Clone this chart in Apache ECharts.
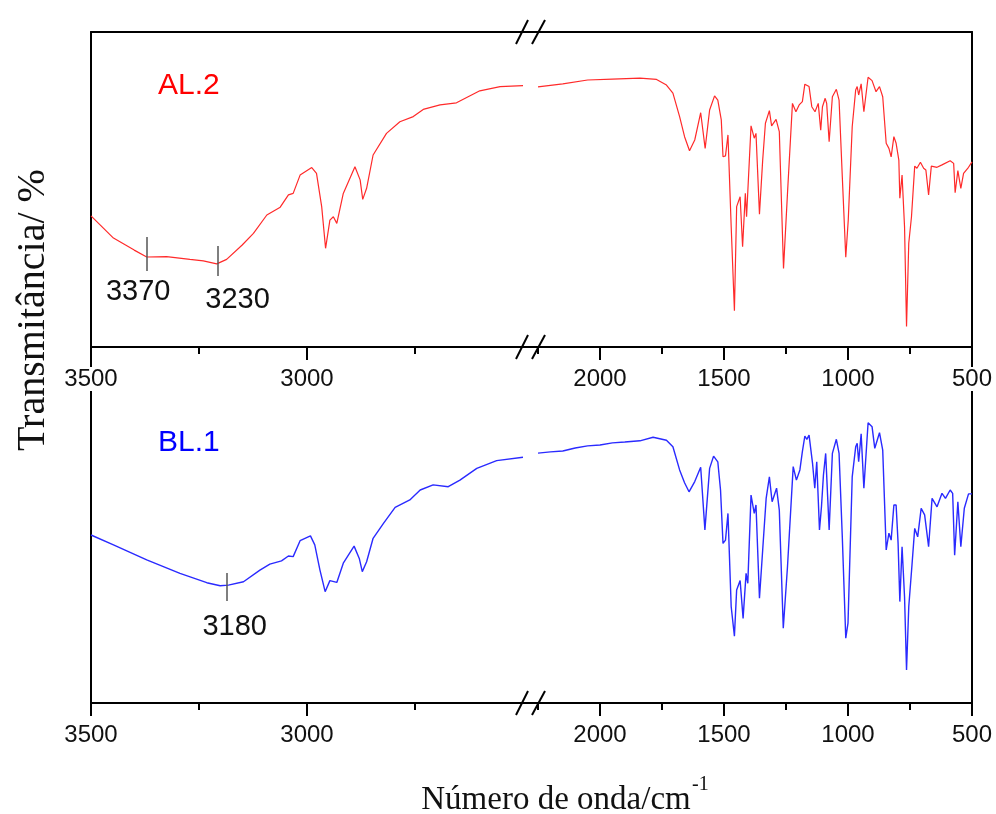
<!DOCTYPE html>
<html>
<head>
<meta charset="utf-8">
<script src="https://cdn.jsdelivr.net/npm/echarts@6/dist/echarts.min.js"></script>
<style>html,body{margin:0;padding:0;background:#fff}#c{width:996px;height:814px}</style>
</head>
<body>
<div id="c"></div>
<script>
// AL.2 (top panel), high-wavenumber segment 3500-2500 cm-1
const al2HighWn = [3500,3448,3400,3371,3325,3271,3240,3209,3186,3150,3124,3093,3062,3043,3032,3016,2989,2978,2966,2957,2947,2939,2931,2916,2889,2877,2871,2862,2847,2816,2785,2754,2731,2692,2654,2600,2553,2500];
const al2HighT  = [43.7,36.3,32.3,30.0,30.1,29.2,28.7,27.7,29.2,34.0,37.9,44.0,46.6,50.7,51.2,57.3,59.8,57.9,46.8,32.9,42.3,43.4,41.2,51.2,60.1,55.7,49.2,52.9,64.0,71.2,75.1,76.8,79.2,80.7,81.4,85.4,86.8,87.1];
// AL.2 low-wavenumber segment 2250-500 cm-1
const al2LowWn = [2250,2150,2050,1950,1839,1772,1732,1706,1679,1659,1639,1618,1594,1576,1558,1538,1525,1511,1504,1494,1484,1471,1458,1449,1435,1425,1414,1409,1391,1378,1371,1357,1344,1333,1317,1308,1290,1277,1260,1244,1224,1210,1197,1184,1174,1157,1146,1133,1120,1110,1103,1092,1086,1076,1063,1047,1036,1023,1009,999,983,969,963,957,947,936,919,903,887,873,860,846,835,826,815,806,795,791,782,772,764,755,744,731,722,708,695,686,675,664,641,621,588,574,568,557,545,534,514,500];
const al2LowT  = [86.7,87.7,89.0,89.3,89.6,89.2,87.3,84.6,76.8,70.1,65.4,69.0,78.1,66.2,79.0,83.7,82.3,75.7,63.4,63.7,70.7,40.1,12.1,46.8,50.1,33.4,51.2,43.4,73.7,69.6,71.2,44.3,62.3,74.6,78.8,73.7,75.9,71.8,26.2,51.2,81.2,78.4,80.7,81.8,87.6,86.8,80.1,78.4,81.2,72.3,80.1,82.9,81.2,68.4,83.4,85.9,82.3,56.8,29.9,42.3,73.4,85.7,86.8,84.0,87.7,78.4,89.9,88.8,85.1,86.8,83.4,67.9,66.2,63.4,70.1,67.9,62.3,49.6,57.3,40.1,6.8,34.6,43.4,60.3,59.6,61.6,59.6,59.0,50.7,60.3,59.9,60.7,62.1,61.2,51.4,58.8,52.9,57.9,59.9,61.7];
// BL.1 (bottom panel)
const bl1HighWn = [3500,3448,3371,3294,3232,3201,3182,3147,3109,3086,3059,3043,3032,3016,2992,2982,2970,2958,2947,2931,2916,2891,2879,2872,2862,2847,2823,2796,2762,2738,2708,2673,2646,2607,2561,2500];
const bl1HighT  = [56.0,52.7,47.7,43.2,40.1,39.1,39.3,40.4,44.3,46.3,47.4,49.0,48.8,54.1,55.7,52.7,44.3,37.1,40.8,40.2,46.6,52.3,48.2,43.8,47.1,54.9,59.9,65.2,67.7,71.0,72.7,72.1,74.3,78.2,80.8,81.9];
const bl1LowWn = [2250,2200,2150,2100,2050,2000,1950,1900,1839,1786,1732,1706,1679,1659,1641,1618,1594,1577,1558,1542,1525,1514,1504,1494,1484,1471,1458,1449,1435,1423,1411,1404,1391,1378,1371,1357,1344,1330,1317,1306,1288,1277,1261,1244,1221,1208,1194,1184,1174,1166,1157,1143,1134,1126,1115,1107,1099,1090,1076,1063,1047,1036,1023,1009,1000,983,969,963,957,947,936,919,903,892,873,860,846,835,826,815,806,798,791,782,772,764,755,742,731,719,705,691,685,675,661,641,621,607,588,578,570,557,545,531,514,500];
const bl1LowT  = [83.3,83.7,84.0,85.0,85.7,86.0,86.7,87.0,87.4,88.6,87.6,85.4,77.7,73.4,70.4,73.8,78.6,57.7,78.2,82.3,80.4,71.0,53.2,54.3,63.2,32.1,22.3,37.7,40.8,28.2,43.2,39.9,69.3,63.2,66.0,34.9,51.0,68.2,75.4,67.1,71.6,64.3,24.9,45.4,78.8,74.3,77.7,83.8,89.0,87.9,89.3,79.9,71.6,80.4,57.7,65.4,76.0,83.2,57.7,83.2,87.9,83.2,55.4,21.6,26.6,75.4,85.4,86.6,80.4,89.7,71.6,93.4,92.1,84.9,90.1,84.3,51.0,56.6,54.3,66.0,66.0,53.2,33.8,52.1,35.4,11.0,32.1,46.0,58.2,55.4,64.9,62.7,63.2,52.1,68.2,65.4,69.9,68.2,71.0,69.9,49.3,67.1,52.1,64.9,69.7,69.7];

// axis ticks / labels
const highMajor = [3500, 3000];
const highMinor = [3250, 2750];
const lowMajor = [2000, 1500, 1000, 500];
const lowMinor = [2250, 1750, 1250, 750];

// peak annotations: [marker position, label text]
const al2Marks = [[3370, '3370'], [3207, '3230']];
const bl1Marks = [[3186, '3180']];

const zip = (a, b) => a.map((v, i) => [v, b[i]]);
const SANS = '"Liberation Sans", Arial, sans-serif';
const SERIF = '"Liberation Serif", "Times New Roman", serif';

const grids = [
  {left: 91, top: 32, width: 432, height: 315},
  {left: 538, top: 32, width: 434, height: 315},
  {left: 91, top: 347, width: 432, height: 356},
  {left: 538, top: 347, width: 434, height: 356}
];
const ranges = [[2500, 3500], [500, 2250], [2500, 3500], [500, 2250]];

const xAxes = [];
// main axes
for (let i = 0; i < 4; i++) {
  const high = i % 2 === 0;
  xAxes.push({
    type: 'value', gridIndex: i, min: ranges[i][0], max: ranges[i][1], inverse: true,
    position: 'bottom', z: i < 2 ? 10 : 3,
    axisLine: {show: true, onZero: false, lineStyle: {color: '#000', width: 2}},
    axisTick: {show: true, length: 13, lineStyle: {color: '#000', width: 2}, customValues: high ? highMajor : lowMajor},
    axisLabel: {show: true, customValues: high ? highMajor : lowMajor, fontSize: 24, fontFamily: SANS, color: '#111', margin: 20,
      formatter: v => String(v),
      backgroundColor: i < 2 ? '#fff' : 'transparent'},
    splitLine: {show: false}
  });
}
// minor tick axes
for (let i = 0; i < 4; i++) {
  const high = i % 2 === 0;
  xAxes.push({
    type: 'value', gridIndex: i, min: ranges[i][0], max: ranges[i][1], inverse: true,
    position: 'bottom',
    axisLine: {show: false, onZero: false},
    axisTick: {show: true, length: 7, lineStyle: {color: '#000', width: 2}, customValues: high ? highMinor : lowMinor},
    axisLabel: {show: false},
    splitLine: {show: false}
  });
}
// top frame of upper panel
for (let i = 0; i < 2; i++) {
  xAxes.push({
    type: 'value', gridIndex: i, min: ranges[i][0], max: ranges[i][1], inverse: true,
    position: 'top',
    axisLine: {show: true, onZero: false, lineStyle: {color: '#000', width: 2}},
    axisTick: {show: false}, axisLabel: {show: false}, splitLine: {show: false}
  });
}

const yAxes = [0, 1, 2, 3].map(i => ({
  type: 'value', gridIndex: i, min: 0, max: i < 2 ? 105 : 118.67,
  position: i % 2 === 0 ? 'left' : 'right',
  axisLine: {show: true, onZero: false, lineStyle: {color: '#000', width: 2}},
  axisTick: {show: false}, axisLabel: {show: false}, splitLine: {show: false}
}));

const RED = '#ff2a2a';
const BLUE = '#2a2aff';

function markPointFor(marks, labelY, dx) {
  return {
    silent: true, symbol: 'circle', symbolSize: 0, animation: false,
    label: {show: true, position: 'inside', fontSize: 29, fontFamily: SANS, color: '#111'},
    data: marks.map((m, k) => ({coord: [m[0], labelY[k]], value: m[1], label: {formatter: m[1], offset: [dx[k], 0]}}))
  };
}
const markLineStyle = {silent: true, symbol: 'none', animation: false, lineStyle: {color: '#555', width: 1.5, type: 'solid'}, label: {show: false}};

const series = [
  {type: 'line', xAxisIndex: 0, yAxisIndex: 0, data: zip(al2HighWn, al2HighT), showSymbol: false, symbol: 'none',
   lineStyle: {color: RED, width: 1.2}, animation: false,
   markLine: Object.assign({}, markLineStyle, {
     data: [[{coord: [al2Marks[0][0], 36.7]}, {coord: [al2Marks[0][0], 25.3]}], [{coord: [al2Marks[1][0], 33.7]}, {coord: [al2Marks[1][0], 23.7]}]]}),
   markPoint: markPointFor(al2Marks, [18.5, 15.7], [-9, 20])},
  {type: 'line', xAxisIndex: 1, yAxisIndex: 1, data: zip(al2LowWn, al2LowT), showSymbol: false, symbol: 'none',
   lineStyle: {color: RED, width: 1.2}, animation: false},
  {type: 'line', xAxisIndex: 2, yAxisIndex: 2, data: zip(bl1HighWn, bl1HighT), showSymbol: false, symbol: 'none',
   lineStyle: {color: BLUE, width: 1.4}, animation: false,
   markLine: Object.assign({}, markLineStyle, {
     data: [[{coord: [bl1Marks[0][0], 43.3]}, {coord: [bl1Marks[0][0], 34]}]]}),
   markPoint: markPointFor(bl1Marks, [25.2], [8])},
  {type: 'line', xAxisIndex: 3, yAxisIndex: 3, data: zip(bl1LowWn, bl1LowT), showSymbol: false, symbol: 'none',
   lineStyle: {color: BLUE, width: 1.4}, animation: false}
];

// axis-break decorations
const graphics = [];
[32, 347, 703].forEach(y => {
  graphics.push({type: 'line', shape: {x1: 522, y1: y, x2: 539, y2: y}, style: {stroke: '#000', lineWidth: 2}, z: 20});
  graphics.push({type: 'line', shape: {x1: 516, y1: y + 12, x2: 528, y2: y - 12}, style: {stroke: '#000', lineWidth: 2}, z: 20});
  graphics.push({type: 'line', shape: {x1: 532, y1: y + 12, x2: 545, y2: y - 12}, style: {stroke: '#000', lineWidth: 2}, z: 20});
});
graphics.push({type: 'text', x: 33, y: 310, rotation: Math.PI / 2, z: 20,
  style: {text: 'Transmitância/ %', fontSize: 40, fontFamily: SERIF, fill: '#111', align: 'center', verticalAlign: 'middle'}});
graphics.push({type: 'text', x: 556, y: 800, z: 20,
  style: {text: 'Número de onda/cm', fontSize: 33, fontFamily: SERIF, fill: '#111', align: 'center', verticalAlign: 'middle'}});
graphics.push({type: 'text', x: 692, y: 785, z: 20,
  style: {text: '-1', fontSize: 20, fontFamily: SERIF, fill: '#111', align: 'left', verticalAlign: 'middle'}});

const chart = echarts.init(document.getElementById('c'), null, {renderer: 'canvas'});
chart.setOption({
  animation: false,
  backgroundColor: '#fff',
  title: [
    {text: 'AL.2', left: 158, top: 71, textStyle: {color: '#ff0000', fontSize: 30, fontWeight: 'normal', fontFamily: SANS}, padding: 0},
    {text: 'BL.1', left: 158, top: 428, textStyle: {color: '#0000ff', fontSize: 30, fontWeight: 'normal', fontFamily: SANS}, padding: 0}
  ],
  grid: grids,
  xAxis: xAxes,
  yAxis: yAxes,
  series: series,
  graphic: graphics
});
</script>
</body>
</html>
